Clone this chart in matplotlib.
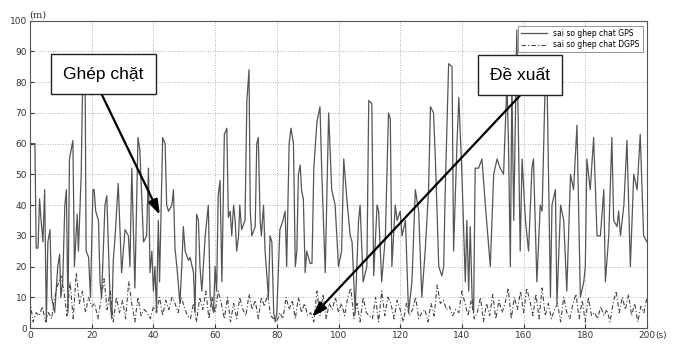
import matplotlib.pyplot as plt
import numpy as np

# GPS tight-coupling error (solid), irregular time stamps
gps_t = [0, 1.6, 2, 2.6, 3.1, 3.6, 4.2, 4.75, 5.3, 5.8, 6.5, 7, 8, 9, 9.6, 10, 10.6, 11.3, 11.8, 12.3,
         12.8, 13.9, 14.4, 15.3, 15.7, 16.6, 17.1, 17.9, 18.2, 19, 19.6, 20.4, 20.8, 21.3, 22.2, 22.7,
         23.2, 24.3, 24.9, 26, 26.5, 27, 27.6, 28.6, 29.7, 30.8, 31.9, 32.4, 33, 34, 35, 35.6, 36.2,
         36.8, 37.8, 38.4, 38.9, 39.5, 40, 40.5, 41, 41.6, 42, 43, 43.8, 44.3, 44.9, 46, 46.5, 47, 47.6,
         48.6, 49.2, 49.7, 50.3, 51.4, 51.9, 53, 53.5, 54, 54.6, 55.1, 55.7, 56.8, 57.8, 58.4, 59.5, 60,
         60.5, 61, 61.6, 62.2, 63, 63.8, 64.3, 64.9, 65.4, 66, 66.5, 67, 67.6, 68, 68.6, 69.7, 70.3, 71,
         71.4, 71.9, 73, 73.5, 74, 74.6, 75, 75.7, 76.2, 77.3, 77.8, 78.4, 79, 79.5, 80, 81, 82, 82.7,
         83.2, 84, 84.6, 85.4, 86, 86.5, 87, 87.6, 88, 88.6, 89.2, 89.7, 90.8, 91.4, 92, 93, 94, 94.6,
         95.7, 96.8, 97.8, 98.9, 100, 101, 101.7, 102.7, 103.8, 104.4, 105.4, 106.5, 107, 108, 109.2,
         109.8, 110.8, 111.4, 112.5, 113, 114, 115.2, 116.2, 116.8, 117.3, 118.4, 119, 120, 120.6, 121.7,
         122.7, 123.8, 124.9, 126, 127, 128.1, 129.2, 129.8, 130.8, 131.4, 132.5, 133.5, 134.1, 134.6,
         135.7, 136.8, 137.3, 138.4, 139, 140, 141.1, 141.6, 142.2, 142.7, 143.3, 143.8, 144.3, 145.4,
         146.5, 147.6, 149.2, 150.3, 151.4, 152.4, 153.5, 154.6, 155.1, 155.7, 156.2, 156.8, 157.8,
         158.9, 159.5, 160.6, 161.6, 162.7, 163.2, 164.3, 165.4, 166, 167, 167.6, 168.7, 169.2, 170.3,
         170.8, 172, 173, 174, 175.2, 176.2, 177.3, 178.4, 179.5, 180, 180.5, 181.6, 182.7, 183.8, 184.9,
         186, 186.5, 187.6, 188.6, 189.2, 190.3, 190.8, 191.4, 192.5, 193.5, 194.6, 195.7, 196.8, 197.8,
         198.9, 200]
gps = [60, 60, 26, 26, 42, 35, 28, 45, 2, 28, 32, 10, 5, 20, 24, 10, 15, 40, 45, 5,
       55, 61, 20, 37, 25, 50, 82, 75, 25, 23, 10, 45, 45, 38, 35, 15,
       10, 40, 43, 8, 3, 22, 30, 47, 18, 32, 30, 20, 52, 13, 62, 58, 43,
       28, 30, 52, 18, 25, 12, 20, 5, 35, 15, 62, 60, 40, 38, 40, 45, 26, 20,
       8, 20, 33, 25, 22, 23, 18, 5, 37, 35, 20, 12, 30, 40, 10, 5, 20,
       12, 43, 48, 15, 63, 65, 36, 38, 30, 40, 35, 25, 30, 40, 32, 35, 74, 84,
       38, 30, 33, 60, 62, 35, 30, 40, 25, 10, 30, 28, 5, 2, 5, 32, 35, 38,
       20, 60, 65, 60, 20, 25, 50, 53, 45, 42, 18, 25, 21, 21, 52, 67, 72, 50,
       18, 70, 45, 40, 20, 25, 55, 42, 30, 28, 5, 35, 40, 15, 20,
       74, 73, 17, 40, 38, 15, 30, 70, 68, 20, 40, 35, 38, 30, 35,
       5, 15, 45, 38, 10, 25, 45, 72, 70, 55, 20, 17, 20, 45,
       86, 85, 25, 60, 75, 50, 15, 35, 12, 33, 10, 5, 52, 52,
       55, 40, 20, 50, 55, 52, 50, 80, 60, 20, 80, 35, 97,
       25, 55, 35, 25, 52, 55, 15, 40, 38, 80, 80, 10, 40, 45,
       8, 40, 35, 12, 50, 45, 66, 10, 15, 20, 55, 45, 62, 30, 30,
       45, 15, 30, 62, 35, 33, 38, 30, 40, 61, 20, 50, 45, 63,
       30, 28]

# DGPS tight-coupling error (dash-dot), one sample per second
dgps_t = list(range(0, 201))
dgps = [9, 2, 5, 4, 7, 2, 5, 3, 10, 14, 17, 12, 4, 15, 3, 18, 8, 12, 5, 10,
        7, 8, 3, 9, 16, 6, 12, 2, 10, 5, 9, 3, 15, 8, 2, 10, 4, 6, 5, 3,
        7, 5, 10, 4, 9, 6, 10, 8, 5, 10, 7, 4, 3, 8, 2, 10, 6, 12, 3, 10,
        5, 12, 8, 3, 10, 2, 8, 3, 10, 6, 4, 11, 6, 9, 3, 10, 7, 11, 4, 3,
        2, 5, 3, 10, 6, 9, 3, 10, 5, 8, 4, 5, 2, 12, 4, 11, 3, 8, 6, 10,
        5, 8, 4, 10, 13, 3, 8, 2, 10, 5, 4, 3, 10, 2, 12, 4, 10, 8, 3, 9,
        6, 2, 8, 4, 6, 10, 3, 5, 6, 2, 8, 4, 14, 8, 9, 6, 7, 4, 6, 5,
        12, 8, 4, 9, 3, 5, 10, 2, 8, 4, 11, 3, 9, 5, 8, 13, 3, 10, 6, 12,
        5, 13, 9, 4, 11, 3, 13, 4, 8, 3, 6, 8, 2, 10, 5, 3, 8, 11, 3, 9,
        2, 10, 4, 5, 3, 7, 4, 6, 2, 8, 12, 5, 10, 6, 11, 4, 8, 2, 7, 5, 10]

xticks = np.arange(0, 201, 20)
yticks = np.arange(0, 101, 10)

fig = plt.figure(figsize=(6.77, 3.44), dpi=100)
ax = fig.add_axes([0.0443, 0.0465, 0.9114, 0.8935])

ax.plot(gps_t, gps, color="#555555", lw=0.9, label="sai so ghep chat GPS")
ax.plot(dgps_t, dgps, color="#444444", lw=0.8, linestyle=(0, (4, 2, 1, 2)),
        label="sai so ghep chat DGPS")

ax.set_xlim(0, 200)
ax.set_ylim(0, 100)
ax.set_xticks(xticks)
ax.set_yticks(yticks)
ax.tick_params(direction="in", length=3, labelsize=6.5, colors="#333333", pad=2)
ax.grid(True, linestyle=(0, (1, 2)), color="#999999", lw=0.6)
for s in ax.spines.values():
    s.set_color("#555555")
    s.set_linewidth(0.8)

ax.text(-0.002, 1.005, "(m)", transform=ax.transAxes, fontsize=7, family="serif",
        ha="left", va="bottom", color="#333333")
ax.text(1.0135, -0.009, "(s)", transform=ax.transAxes, fontsize=6.5, ha="left",
        va="top", color="#333333")

leg = ax.legend(loc="upper right", fontsize=5.5, frameon=True, fancybox=False,
                handlelength=3.5, borderpad=0.4, labelspacing=0.3,
                bbox_to_anchor=(0.9995, 0.995))
leg.get_frame().set_edgecolor("#666666")
leg.get_frame().set_linewidth(0.6)

arrow = dict(arrowstyle="-|>,head_length=0.9,head_width=0.3", color="black", lw=1.6,
             shrinkA=0, shrinkB=0)

ax.annotate("", xy=(42.1, 36.8), xytext=(23.3, 75.9), arrowprops=arrow)
ax.text(23.8, 82.6, "Ghép chặt", fontsize=12.5, family="Liberation Sans",
        ha="center", va="center", bbox=dict(boxstyle="square,pad=0.7", fc="white",
                                            ec="#222222", lw=1.0))

ax.annotate("", xy=(91.4, 3.6), xytext=(158.8, 75.6), arrowprops=arrow)
ax.text(158.9, 82.3, "Đề xuất", fontsize=12.5, family="Liberation Sans",
        ha="center", va="center", bbox=dict(boxstyle="square,pad=0.7", fc="white",
                                            ec="#222222", lw=1.0))

fig.savefig("out.png", dpi=100)
